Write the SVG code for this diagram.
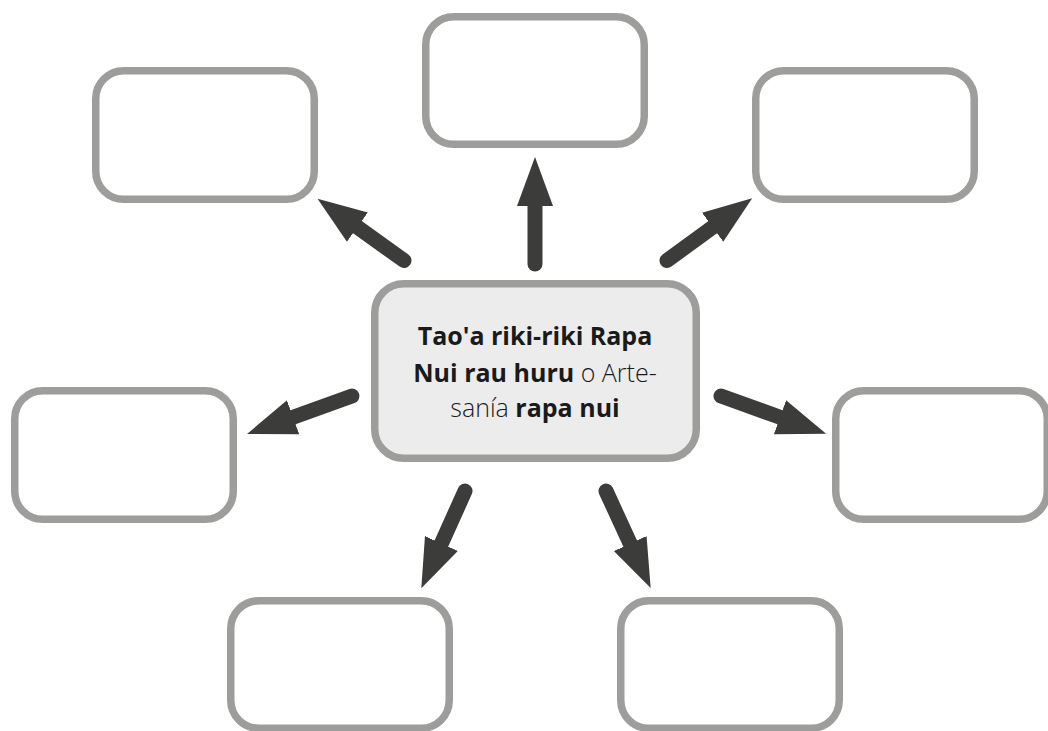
<svg xmlns="http://www.w3.org/2000/svg" width="1048" height="731" viewBox="0 0 1048 731">
  <style>
    .box { fill: #ffffff; stroke: #9d9d9c; stroke-width: 7.5; }
    .main { fill: #ececec; stroke: #9d9d9c; stroke-width: 7.5; }
    .arrow { stroke: #3c3c3b; stroke-width: 15; stroke-linecap: round; fill: none; marker-end: url(#head); }
    .label { font-family: "Open Sans", "Liberation Sans", sans-serif; font-size: 25px; fill: #1a1a1a; text-anchor: middle; }
    .b { font-weight: 700; }
    .l { font-weight: 300; }
  </style>
  <defs>
    <marker id="head" markerUnits="userSpaceOnUse" viewBox="0 -20 50 40" markerWidth="50" markerHeight="40" refX="0" refY="0" orient="auto">
      <path d="M0,-18 L49,0 L0,18 Z" fill="#3c3c3b"/>
    </marker>
  </defs>
  <rect width="1048" height="731" fill="#ffffff"/>

  <g id="connectors">
    <line class="arrow" x1="535" y1="264" x2="535" y2="206"/>
    <line class="arrow" x1="404" y1="260.5" x2="357.4" y2="227.2"/>
    <line class="arrow" x1="667" y1="260.5" x2="712.6" y2="227.2"/>
    <line class="arrow" x1="352" y1="396" x2="293.1" y2="417.3"/>
    <line class="arrow" x1="721" y1="396" x2="780" y2="417.2"/>
    <line class="arrow" x1="465" y1="491" x2="441.4" y2="543.5"/>
    <line class="arrow" x1="606" y1="491" x2="630.2" y2="543.6"/>
  </g>

  <g id="node-top"><rect class="box" x="425.75" y="16.75" width="218.5" height="127.5" rx="28" ry="28"/></g>
  <g id="node-top-left"><rect class="box" x="95.75" y="70.75" width="218.5" height="128.5" rx="28" ry="28"/></g>
  <g id="node-top-right"><rect class="box" x="755.75" y="70.75" width="218.5" height="128.5" rx="28" ry="28"/></g>
  <g id="node-left"><rect class="box" x="14.75" y="390.75" width="218.5" height="128.5" rx="28" ry="28"/></g>
  <g id="node-right"><rect class="box" x="835.75" y="390.75" width="211.5" height="128.5" rx="28" ry="28"/></g>
  <g id="node-bottom-left"><rect class="box" x="230.75" y="600.75" width="218.5" height="127.5" rx="28" ry="28"/></g>
  <g id="node-bottom-right"><rect class="box" x="620.75" y="600.75" width="218.5" height="127.5" rx="28" ry="28"/></g>

  <g id="node-center">
    <rect class="main" x="374.75" y="283.75" width="321.5" height="174.5" rx="29" ry="29"/>
    <text class="label" x="535" y="345"><tspan class="b">Tao'a riki-riki Rapa</tspan></text>
    <text class="label" x="535" y="381.5"><tspan class="b">Nui rau huru</tspan><tspan class="l"> o Arte-</tspan></text>
    <text class="label" x="535" y="417"><tspan class="l">sanía </tspan><tspan class="b">rapa nui</tspan></text>
  </g>
</svg>
